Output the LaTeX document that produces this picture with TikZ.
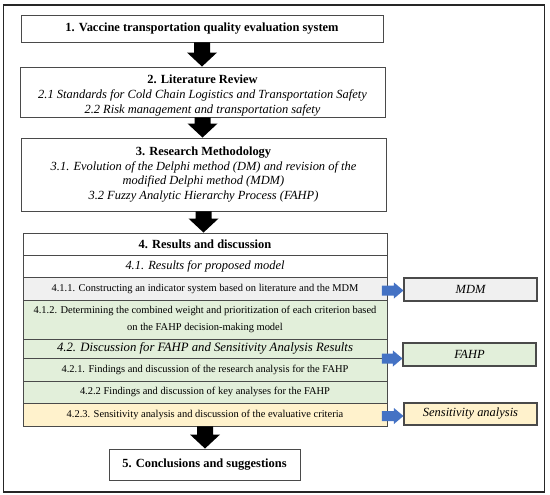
\documentclass[tikz,border=0pt]{standalone}
\usepackage{fontspec}
\setmainfont{Liberation Serif}
\usetikzlibrary{calc}
\definecolor{rowgray}{HTML}{F0F0F0}
\definecolor{rowgreen}{HTML}{E2EFDA}
\definecolor{rowyellow}{HTML}{FFF2CC}
\definecolor{arrowblue}{HTML}{4472C4}
\definecolor{edge}{HTML}{4A4A4A}
\newcommand\blockarrow[2]{%
  \coordinate (ba-s) at (#1.south);
  \coordinate (ba-t) at (#1.south |- #2.north);
  \fill[black] ($(ba-s)+(-8,0)$) -- ($(ba-t)+(-8,-14)$) -- ($(ba-t)+(-15,-14)$) -- (ba-t)
    -- ($(ba-t)+(15,-14)$) -- ($(ba-t)+(8,-14)$) -- ($(ba-s)+(8,0)$) -- cycle;}
\newcommand\sidearrow[3]{%
  \coordinate (sa-t) at ($(#2.west)+(0,#3)$);
  \coordinate (sa-s) at ($(#1.east |- sa-t)+(-5.5,0)$);
  \fill[arrowblue] ($(sa-s)+(0,-5)$) -- ($(sa-t)+(-9.5,-5)$) -- ($(sa-t)+(-9.5,-8)$) -- (sa-t)
    -- ($(sa-t)+(-9.5,8)$) -- ($(sa-t)+(-9.5,5)$) -- ($(sa-s)+(0,5)$) -- cycle;}
\begin{document}
\begin{tikzpicture}[x=1bp,y=-1bp,
  box/.style={draw=edge, line width=0.9bp, inner sep=0pt, align=center},
  row/.style={box, minimum width=364bp},
  side/.style={box, line width=1.1bp, minimum width=133bp, itl},
  ttl/.style={font=\fontsize{12.5}{15}\selectfont\bfseries},
  itl/.style={font=\fontsize{12.5}{15}\selectfont\itshape},
  reg/.style={font=\fontsize{10.5}{17}\selectfont},
]
\useasboundingbox (0,0) rectangle (550,495);
\draw[line width=1.2bp, draw=black!85] (3.5,5) rectangle (544.5,492);

% Box 1
\node[box, ttl, minimum width=362bp, minimum height=27bp] (b1) at (202,28.5)
  {1. Vaccine transportation quality evaluation system};

% Box 2
\node[align=center, inner sep=0pt, font=\fontsize{12.5}{15.5}\selectfont] (b2t) at (202.5,95.5)
  {{\bfseries 2. Literature Review}\\
   {\itshape 2.1 Standards for Cold Chain Logistics and Transportation Safety}\\
   {\itshape 2.2 Risk management and transportation safety}};
\node[box, minimum width=365bp, minimum height=50bp] (b2) at (202.5,92) {};

% Box 3
\node[box, minimum width=365bp, minimum height=73bp, font=\fontsize{12.5}{15}\selectfont] (b3) at (203.5,174.5)
  {{\bfseries 3. Research Methodology}\\
   {\itshape 3.1. Evolution of the Delphi method (DM) and revision of the}\\
   {\itshape modified Delphi method (MDM)}\\
   {\itshape 3.2 Fuzzy Analytic Hierarchy Process (FAHP)}};

% Box 4 rows
\node[row, ttl, minimum height=22bp] (r4) at (205,244) {4. Results and discussion};
\node[row, itl, minimum height=22bp] (r41) at (205,266) {4.1. Results for proposed model};
\node[row, reg, fill=rowgray, minimum height=23bp] (r411) at (205,288.5)
  {4.1.1. Constructing an indicator system based on literature and the MDM};
\node[row, reg, fill=rowgreen, minimum height=39bp] (r412) at (205,319.5)
  {4.1.2. Determining the combined weight and prioritization of each criterion based\\on the FAHP decision-making model};
\node[row, itl, fill=rowgreen, minimum height=19bp, font=\fontsize{12.8}{15}\selectfont\itshape] (r42) at (205,348.5)
  {4.2. Discussion for FAHP and Sensitivity Analysis Results};
\node[row, reg, fill=rowgreen, minimum height=23bp] (r421) at (205,369.5)
  {4.2.1. Findings and discussion of the research analysis for the FAHP};
\node[row, reg, fill=rowgreen, minimum height=22bp] (r422) at (205,392)
  {4.2.2 Findings and discussion of key analyses for the FAHP};
\node[row, reg, fill=rowyellow, minimum height=23bp] (r423) at (205,414.5)
  {4.2.3. Sensitivity analysis and discussion of the evaluative criteria};

% Box 5
\node[box, ttl, minimum width=191bp, minimum height=31bp] (b5) at (204.5,464.5)
  {5. Conclusions and suggestions};

% Side boxes
\node[side, fill=rowgray, minimum height=23bp] (mdm) at (470.5,289.5) {MDM};
\node[side, fill=rowgreen, minimum height=23bp] (fahp) at (469.5,354.5) {FAHP};
\node[side, fill=rowyellow, minimum height=22bp] (sens) at (470.5,414) {Sensitivity analysis};

% Block arrows
\blockarrow{b1}{b2}
\blockarrow{b2}{b3}
\blockarrow{b3}{r4}
\blockarrow{r423}{b5}

% Side arrows
\sidearrow{r411}{mdm}{1}
\sidearrow{r42}{fahp}{4}
\sidearrow{r423}{sens}{2}
\end{tikzpicture}
\end{document}
